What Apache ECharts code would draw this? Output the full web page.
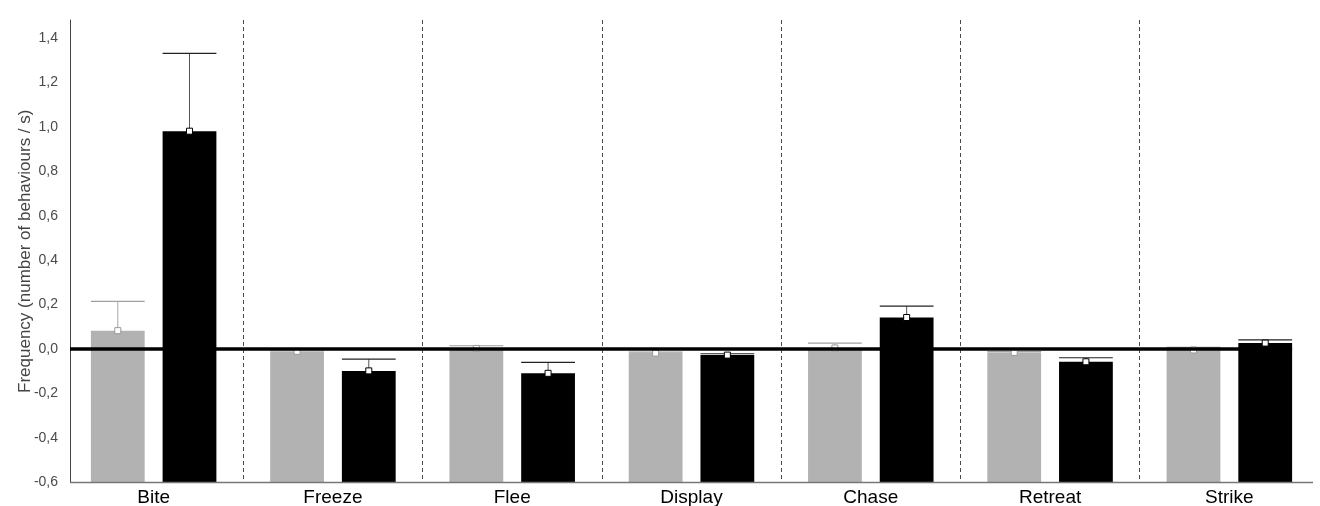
<!DOCTYPE html>
<html>
<head>
<meta charset="utf-8">
<title>Frequency of behaviours</title>
<script src="https://cdn.jsdelivr.net/npm/echarts@6/dist/echarts.min.js"></script>
<style>
  html, body { margin: 0; padding: 0; background: #ffffff; }
  #chart { width: 1320px; height: 506px; }
</style>
</head>
<body>
<div id="chart"></div>
<script>
// Behaviour categories along the x axis
const categories = ['Bite', 'Freeze', 'Flee', 'Display', 'Chase', 'Retreat', 'Strike'];

// Grey group: mean frequency and upper error (behaviours / s)
const greyMean = [0.083, -0.010, 0.003, -0.018, 0.005, -0.015, -0.004];
const greyErr  = [0.132, 0.006, 0.012, 0.004, 0.022, 0.004, 0.012];

// Black group: mean frequency and upper error (behaviours / s)
const blackMean = [0.980, -0.098, -0.109, -0.027, 0.142, -0.057, 0.027];
const blackErr  = [0.350, 0.053, 0.049, 0.006, 0.051, 0.018, 0.014];

// Value axis range and tick step
const Y_MIN = -0.6;
const Y_MAX = 1.48;
const Y_STEP = 0.2;

// Reference line value
const REF_VALUE = 0;

// Bar geometry as fractions of a category band
const BAR_FRAC = 0.30;
const OFFSET_FRAC = 0.20;
const Y_AXIS_INSET = 6;
const FONT = "'Liberation Sans', Arial, sans-serif";

function toRows(means, errs) {
  return means.map((m, i) => [i, m, errs[i]]);
}

// Bars rise from the bottom of the axis to the mean, with an upward error whisker
// and a small white square marking the mean.
function barRenderer(side, fill, stemColor, capColor, markerStroke) {
  return function (params, api) {
    const i = api.value(0);
    const mean = api.value(1);
    const err = api.value(2);
    const band = api.size([1, 0])[0];
    const w = band * BAR_FRAC;
    const cx = api.coord([i, 0])[0] + side * band * OFFSET_FRAC;
    const yTop = api.coord([i, mean])[1];
    const yBase = api.coord([i, Y_MIN])[1];
    const yErr = api.coord([i, mean + err])[1];
    return {
      type: 'group',
      children: [
        { type: 'rect', shape: { x: cx - w / 2, y: yTop, width: w, height: yBase - yTop },
          style: { fill: fill } },
        { type: 'line', shape: { x1: cx, y1: yTop, x2: cx, y2: yErr },
          style: { stroke: stemColor, lineWidth: 1 } },
        { type: 'line', shape: { x1: cx - w / 2, y1: yErr, x2: cx + w / 2, y2: yErr },
          style: { stroke: capColor, lineWidth: 1.2 } },
        { type: 'rect', shape: { x: cx - 3, y: yTop - 3, width: 6, height: 6 },
          style: { fill: '#ffffff', stroke: markerStroke, lineWidth: 1 } }
      ]
    };
  };
}

// Thick reference line at zero plus the bottom baseline of the plot
function frameRenderer(params, api) {
  const cs = params.coordSys;
  const band = api.size([1, 0])[0];
  const yRef = api.coord([0, api.value(1)])[1];
  const yBase = api.coord([0, Y_MIN])[1];
  const xStart = cs.x + Y_AXIS_INSET;
  const xRefEnd = api.coord([categories.length - 1, 0])[0] + band * (OFFSET_FRAC + BAR_FRAC / 2);
  return {
    type: 'group',
    children: [
      { type: 'line', shape: { x1: xStart, y1: yBase, x2: cs.x + cs.width - Y_AXIS_INSET, y2: yBase },
        style: { stroke: '#777777', lineWidth: 1.5 } },
      { type: 'line', shape: { x1: xStart, y1: yRef, x2: xRefEnd, y2: yRef },
        style: { stroke: '#000000', lineWidth: 3.5 } }
    ]
  };
}

const chart = echarts.init(document.getElementById('chart'), null, { renderer: 'canvas' });

chart.setOption({
  animation: false,
  backgroundColor: '#ffffff',
  grid: { left: 64, right: 1, top: 20, bottom: 23.5, outerBoundsMode: 'none' },
  xAxis: {
    type: 'category',
    data: categories,
    boundaryGap: true,
    axisLine: { show: false },
    axisTick: { show: false },
    axisLabel: { color: '#000000', fontSize: 19, fontFamily: FONT, margin: 6 },
    splitLine: {
      show: true,
      showMinLine: false,
      showMaxLine: false,
      lineStyle: { color: '#4a4a4a', width: 1, type: [4, 3] }
    }
  },
  yAxis: {
    type: 'value',
    min: Y_MIN,
    max: Y_MAX,
    interval: Y_STEP,
    offset: -Y_AXIS_INSET,
    name: 'Frequency (number of behaviours / s)',
    nameLocation: 'middle',
    nameGap: 36,
    nameMoveOverlap: false,
    nameTextStyle: { color: '#444444', fontSize: 17, fontFamily: FONT },
    axisLine: { show: true, lineStyle: { color: '#444444', width: 1 } },
    axisTick: { show: false },
    splitLine: { show: false },
    axisLabel: {
      color: '#4a4a4a',
      fontSize: 14,
      fontFamily: FONT,
      margin: 12,
      showMaxLabel: false,
      formatter: function (v) {
        const r = Math.abs(v) < 1e-9 ? 0 : v;
        return r.toFixed(1).replace('.', ',');
      }
    }
  },
  series: [
    {
      type: 'custom',
      name: 'grey',
      z: 2,
      encode: { x: 0, y: 1 },
      data: toRows(greyMean, greyErr),
      renderItem: barRenderer(-1, '#b2b2b2', '#a8a8a8', '#a0a0a0', '#999999')
    },
    {
      type: 'custom',
      name: 'black',
      z: 3,
      encode: { x: 0, y: 1 },
      data: toRows(blackMean, blackErr),
      renderItem: barRenderer(1, '#000000', '#555555', '#222222', '#000000')
    },
    {
      type: 'custom',
      name: 'frame',
      z: 4,
      silent: true,
      encode: { x: 0, y: 1 },
      data: [[0, REF_VALUE]],
      renderItem: frameRenderer
    }
  ]
});
</script>
</body>
</html>
